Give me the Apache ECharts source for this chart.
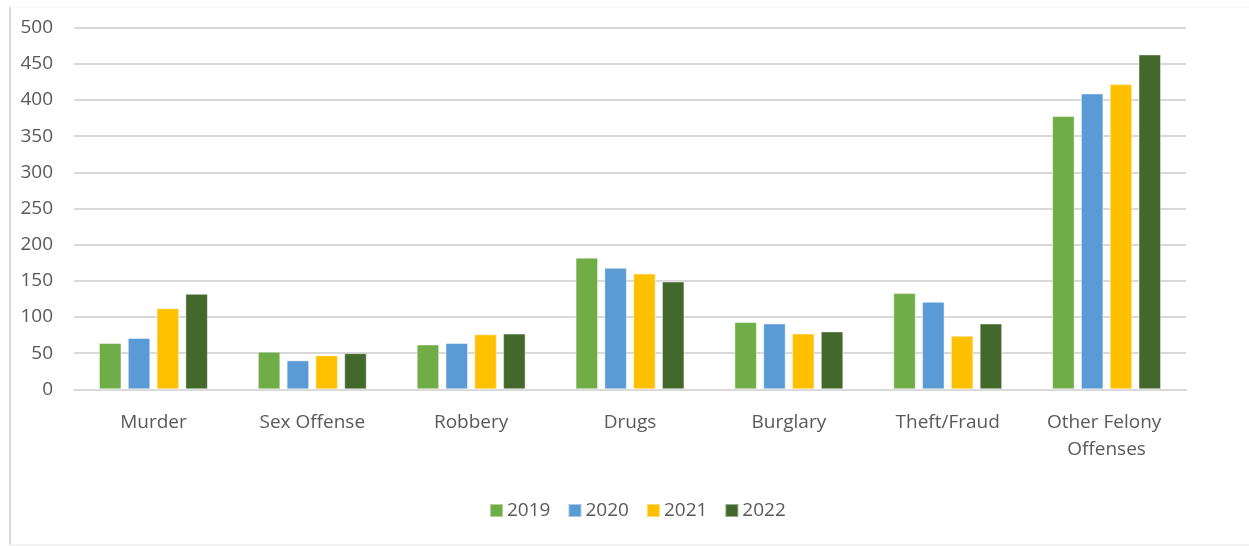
<!DOCTYPE html>
<html>
<head>
<meta charset="utf-8">
<script src="https://cdn.jsdelivr.net/npm/echarts@6/dist/echarts.min.js"></script>
<style>
html,body{margin:0;padding:0;background:#fff;}
#c{width:1249px;height:546px;}
</style>
</head>
<body>
<div id="c"></div>
<script>
const categories = ["Murder", "Sex Offense", "Robbery", "Drugs", "Burglary", "Theft/Fraud", "Other Felony Offenses"];
const years = ["2019", "2020", "2021", "2022"];
const v2019 = [64, 52, 62, 182, 93, 133, 378];
const v2020 = [71, 40, 64, 168, 91, 121, 409];
const v2021 = [112, 47, 76, 160, 77, 74, 422];
const v2022 = [132, 50, 77, 149, 80, 91, 463];
const yTicks = [0, 50, 100, 150, 200, 250, 300, 350, 400, 450, 500];

const colors = ["#70AD47", "#5B9BD5", "#FFC000", "#43682B"];
const seriesValues = [v2019, v2020, v2021, v2022];
const FONT = "'Open Sans', sans-serif";

const chart = echarts.init(document.getElementById('c'), null, {renderer: 'canvas'});
chart.setOption({
  animation: false,
  backgroundColor: '#ffffff',
  textStyle: {fontFamily: FONT},
  grid: {left: 74, right: 63, top: 27.7, bottom: 156.7, containLabel: false},
  graphic: [
    {type: 'line', shape: {x1: 10, y1: 7, x2: 10, y2: 545}, style: {stroke: '#d9d9d9', lineWidth: 2}, silent: true},
    {type: 'line', shape: {x1: 10, y1: 7, x2: 1249, y2: 7}, style: {stroke: '#f4f4f4', lineWidth: 1}, silent: true},
    {type: 'line', shape: {x1: 10, y1: 545, x2: 1249, y2: 545}, style: {stroke: '#eeeeee', lineWidth: 1.5}, silent: true}
  ],
  legend: {
    data: years,
    left: 484,
    top: 496,
    icon: 'rect',
    itemWidth: 13,
    itemHeight: 13,
    itemGap: 17,
    textStyle: {color: '#595959', fontSize: 19, fontFamily: FONT, padding: [0, 0, 0, -1]}
  },
  xAxis: {
    type: 'category',
    data: categories,
    axisLine: {show: true, lineStyle: {color: '#d9d9d9', width: 2}},
    axisTick: {show: false},
    axisLabel: {color: '#595959', fontSize: 19, fontFamily: FONT, margin: 20, width: 150, overflow: 'break', lineHeight: 27, interval: 0}
  },
  yAxis: {
    type: 'value',
    min: 0,
    max: yTicks[yTicks.length - 1],
    interval: yTicks[1] - yTicks[0],
    axisLine: {show: false},
    axisTick: {show: false},
    splitLine: {lineStyle: {color: '#d9d9d9', width: 2}},
    axisLabel: {color: '#595959', fontSize: 19, fontFamily: FONT, margin: 21}
  },
  series: years.map((y, i) => ({
    name: y,
    type: 'bar',
    data: seriesValues[i],
    barWidth: 22.5,
    barGap: '28%',
    itemStyle: {color: colors[i], borderColor: 'rgba(255,255,255,0.45)', borderWidth: 1}
  }))
});
</script>
</body>
</html>
